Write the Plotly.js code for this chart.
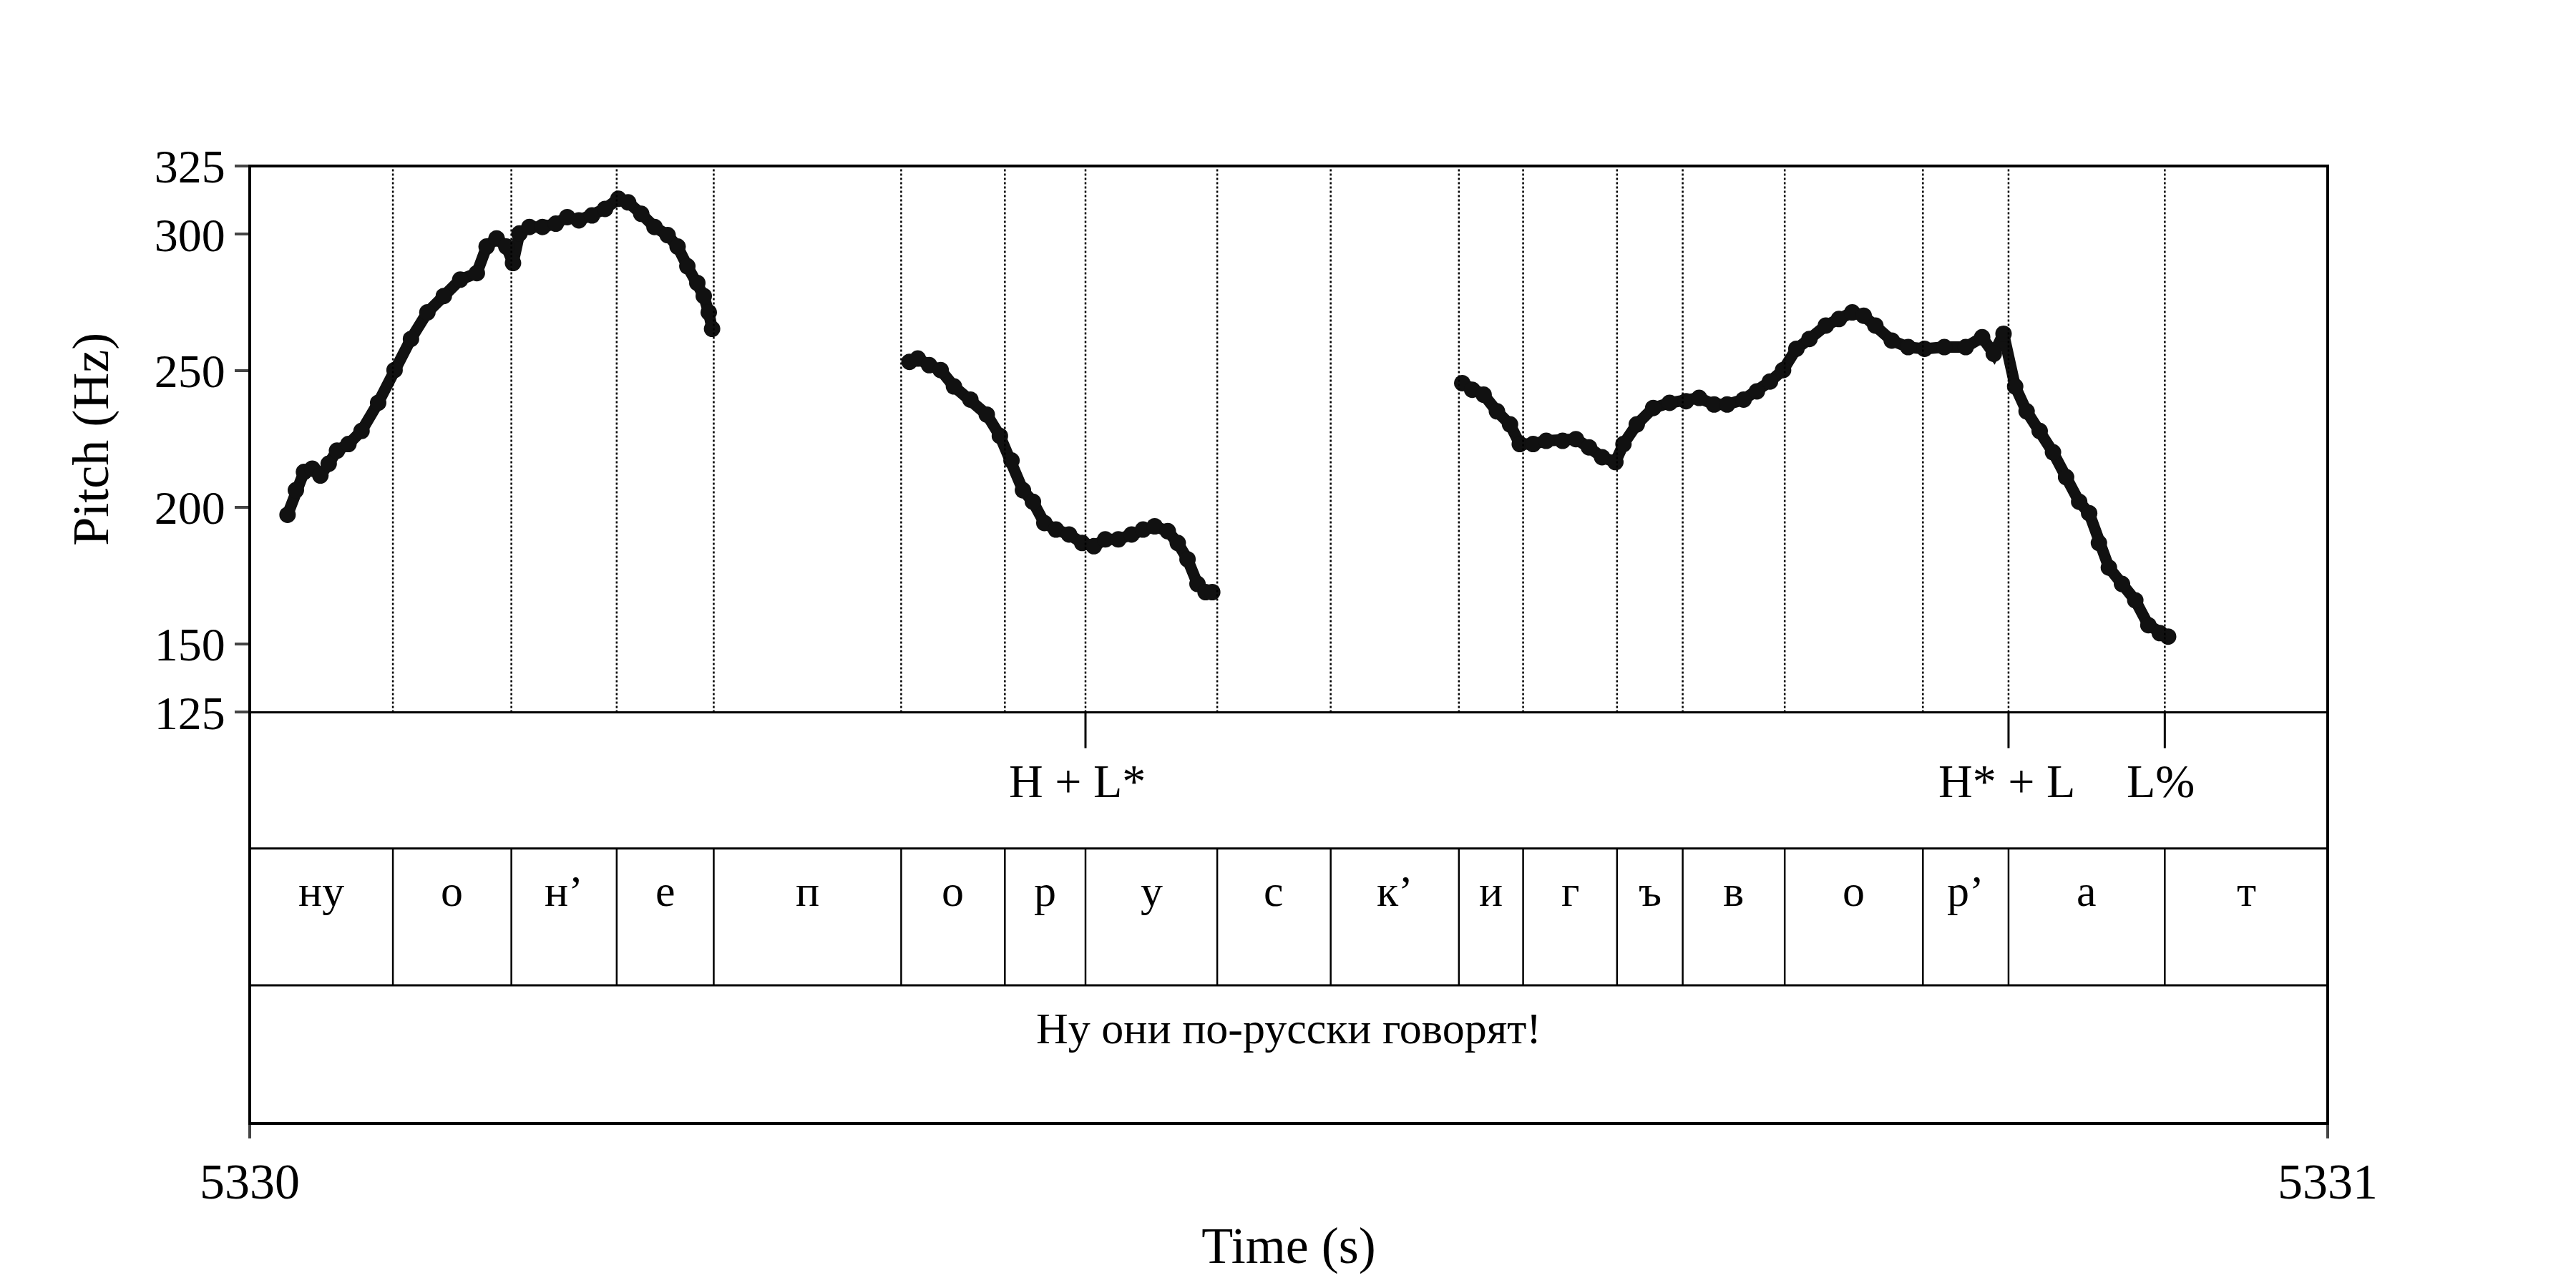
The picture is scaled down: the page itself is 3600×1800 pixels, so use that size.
<!DOCTYPE html>
<html>
<head>
<meta charset="utf-8">
<script src="https://cdn.plot.ly/plotly-3.0.1.min.js"></script>
<style>html,body{margin:0;padding:0;background:#fff}#chart{width:3600px;height:1800px}</style>
</head>
<body>
<div id="chart"></div>
<script>
// pitch contour, three voiced stretches (time in s, pitch in Hz)
const t1 = [5330.0182,5330.0222,5330.0261,5330.0301,5330.0340,5330.0380,5330.0420,5330.0475,5330.0538,5330.0618,5330.0697,5330.0776,5330.0855,5330.0934,5330.1013,5330.1093,5330.1140,5330.1188,5330.1235,5330.1267,5330.1298,5330.1346,5330.1409,5330.1473,5330.1528,5330.1584,5330.1647,5330.1710,5330.1774,5330.1821,5330.1884,5330.1948,5330.2011,5330.2059,5330.2106,5330.2154,5330.2185,5330.2209,5330.2225];
const f1 = [197.3,206.3,213,214.2,211.7,216,220.8,223.2,228,238.3,250.3,261.7,271.4,277.4,283.4,285.8,295.5,298.5,295.5,289.5,300.3,302.7,302.7,303.9,306.3,305.1,306.9,309.3,313,311.7,307.5,302.7,299.7,295.5,288.3,282.2,277.4,271.4,265.4];
const t2 = [5330.3175,5330.3215,5330.3270,5330.3325,5330.3389,5330.3468,5330.3547,5330.3610,5330.3666,5330.3721,5330.3769,5330.3824,5330.3880,5330.3943,5330.4006,5330.4062,5330.4117,5330.4180,5330.4244,5330.4299,5330.4355,5330.4418,5330.4466,5330.4513,5330.4561,5330.4600,5330.4632];
const f2 = [253.3,254.5,252.1,250.3,244.3,239.5,234,226.2,217.2,206.3,202.1,194.3,191.9,190.1,187,185.8,188.3,188.3,190.1,191.9,193.1,191.3,187,181,172,169,169];
const t3 = [5330.5835,5330.5883,5330.5938,5330.6002,5330.6065,5330.6112,5330.6176,5330.6239,5330.6318,5330.6382,5330.6445,5330.6508,5330.6572,5330.6611,5330.6675,5330.6754,5330.6833,5330.6912,5330.6975,5330.7047,5330.7110,5330.7189,5330.7253,5330.7316,5330.7379,5330.7443,5330.7506,5330.7585,5330.7648,5330.7712,5330.7767,5330.7823,5330.7902,5330.7981,5330.8060,5330.8155,5330.8258,5330.8337,5330.8393,5330.8440,5330.8496,5330.8551,5330.8614,5330.8678,5330.8741,5330.8804,5330.8852,5330.8899,5330.8947,5330.9010,5330.9074,5330.9137,5330.9192,5330.9232];
const f3 = [245.5,243.1,241.3,235.2,230.4,223.2,223.2,224.4,224.4,225,222,218.4,216.6,223.2,230.4,236.4,238.3,238.9,240.1,237.7,237.7,239.5,242.5,246.1,250.3,258.1,261.7,266.6,269,271.4,270.2,266.6,261.1,258.7,258.1,258.7,258.7,262.3,256.3,263.6,244.3,235.2,228,220.2,211.1,202.1,197.9,187,178,172,166,156.9,154,152.7];

// segment tier
const segBounds = [5330,5330.0689,5330.1259,5330.1766,5330.2233,5330.3135,5330.3634,5330.4022,5330.4656,5330.5202,5330.5819,5330.6128,5330.6580,5330.6896,5330.7387,5330.8052,5330.8464,5330.9216,5331];
const segLabels = ['ну','о','н’','е','п','о','р','у','с','к’','и','г','ъ','в','о','р’','а','т'];
// tone tier
const toneTimes = [5330.4022,5330.8464,5330.9216];
const toneLabels = ['H + L*','H* + L','L%'];
const toneOffsets = [-0.004,-0.001,-0.002];
const sentence = 'Ну они по-русски говорят!';

const yTiers = [0.4294, 0.2872, 0.1443];
const font = {family: 'Liberation Serif, serif', color: '#000'};

const mk = (x, y) => ({x, y, type: 'scatter', mode: 'lines+markers',
  line: {color: '#111', width: 16}, marker: {color: '#111', size: 23}, hoverinfo: 'skip'});

const shapes = [
  {type: 'rect', xref: 'paper', yref: 'paper', x0: 0, x1: 1, y0: 0, y1: 1, line: {color: '#000', width: 4}},
];
yTiers.forEach(y => shapes.push({type: 'line', xref: 'paper', yref: 'paper', x0: 0, x1: 1, y0: y, y1: y, line: {color: '#000', width: 3}}));
segBounds.slice(1, -1).forEach(b => {
  shapes.push({type: 'line', xref: 'x', yref: 'paper', x0: b, x1: b, y0: yTiers[0], y1: 1, line: {color: '#000', width: 2.5, dash: 'dot'}});
  shapes.push({type: 'line', xref: 'x', yref: 'paper', x0: b, x1: b, y0: yTiers[2], y1: yTiers[1], line: {color: '#000', width: 2.5}});
});
toneTimes.forEach(b => shapes.push({type: 'line', xref: 'x', yref: 'paper', x0: b, x1: b, y0: 0.392, y1: yTiers[0], line: {color: '#000', width: 3}}));

const annotations = [];
segLabels.forEach((s, i) => annotations.push({x: (segBounds[i] + segBounds[i + 1]) / 2, y: (yTiers[1] + yTiers[2]) / 2,
  xref: 'x', yref: 'paper', text: s, showarrow: false, font: {...font, size: 62}}));
toneLabels.forEach((s, i) => annotations.push({x: toneTimes[i] + toneOffsets[i], y: 0.3575, xref: 'x', yref: 'paper',
  text: s, showarrow: false, font: {...font, size: 66}}));
annotations.push({x: 0.5, y: yTiers[2] / 2, xref: 'paper', yref: 'paper', text: sentence, showarrow: false, font: {...font, size: 62}});

const layout = {
  width: 3600, height: 1800,
  margin: {l: 349, r: 347, t: 232, b: 230},
  paper_bgcolor: '#fff', plot_bgcolor: '#fff',
  showlegend: false, font: {...font, size: 62},
  xaxis: {range: [5330, 5331], tickvals: [5330, 5331], ticktext: ['5330', '5331'], ticks: 'outside', ticklen: 20, tickwidth: 4,
    anchor: 'free', position: 0,
    showgrid: false, zeroline: false, showline: false, title: {text: 'Time (s)', font: {...font, size: 72}, standoff: 25},
    tickfont: {...font, size: 70}},
  yaxis: {domain: [yTiers[0], 1], range: [125, 325], tickvals: [125, 150, 200, 250, 300, 325], ticks: 'outside', ticklen: 20, tickwidth: 4,
    showgrid: false, zeroline: false, showline: false, title: {text: 'Pitch (Hz)', font: {...font, size: 72}, standoff: 40},
    tickfont: {...font, size: 66}},
  shapes, annotations
};

Plotly.newPlot('chart', [mk(t1, f1), mk(t2, f2), mk(t3, f3)], layout, {staticPlot: true});
</script>
</body>
</html>
